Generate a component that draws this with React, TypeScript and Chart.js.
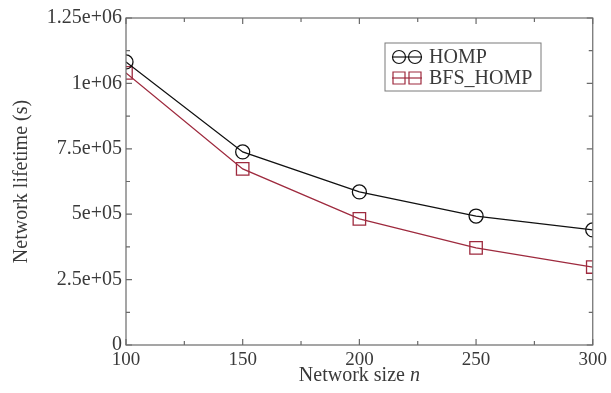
import React, { useEffect, useRef } from "react";
import { Chart, registerables } from "chart.js";

Chart.register(...registerables);

const networkSizes = [100, 150, 200, 250, 300];
const hompLifetime = [1082000, 738000, 585000, 493000, 440000];
const bfsHompLifetime = [1040000, 673000, 482000, 371000, 298000];
const yTicks = [0, 250000, 500000, 750000, 1000000, 1250000];
const xTicks = [100, 150, 200, 250, 300];
const seriesNames = ["HOMP", "BFS_HOMP"];

const BLACK = "#111111";
const RED = "#9e2a3e";
const AXIS = "#6a6a6a";
const TEXT = "#3a3a3a";
const SERIF = "'Liberation Serif', 'DejaVu Serif', serif";

function fmtExp(v: number): string {
  if (v === 0) return "0";
  const s = v.toExponential();
  const [m, e] = s.split("e");
  const sign = e[0] === "-" ? "-" : "+";
  const digits = e.replace(/[+-]/, "").padStart(2, "0");
  return `${m}e${sign}${digits}`;
}

const framePlugin = {
  id: "frame",
  afterDraw(chart: any) {
    const { ctx, chartArea: a, scales } = chart;
    const xs = scales.x;
    const ys = scales.y;
    ctx.save();
    ctx.strokeStyle = AXIS;
    ctx.lineWidth = 1.2;
    ctx.strokeRect(a.left, a.top, a.right - a.left, a.bottom - a.top);
    for (let v = 100; v <= 300; v += 25) {
      const px = xs.getPixelForValue(v);
      const len = v % 50 === 0 ? 6 : 4;
      ctx.beginPath();
      ctx.moveTo(px, a.bottom);
      ctx.lineTo(px, a.bottom - len);
      ctx.moveTo(px, a.top);
      ctx.lineTo(px, a.top + len);
      ctx.stroke();
    }
    for (let v = 0; v <= 1250000; v += 125000) {
      const py = ys.getPixelForValue(v);
      const len = v % 250000 === 0 ? 6 : 4;
      ctx.beginPath();
      ctx.moveTo(a.left, py);
      ctx.lineTo(a.left + len, py);
      ctx.moveTo(a.right, py);
      ctx.lineTo(a.right - len, py);
      ctx.stroke();
    }
    ctx.fillStyle = TEXT;
    ctx.textBaseline = "middle";
    const cx = (a.left + a.right) / 2;
    const t1 = "Network size ";
    ctx.font = `20px ${SERIF}`;
    const w1 = ctx.measureText(t1).width;
    ctx.font = `italic 20px ${SERIF}`;
    const w2 = ctx.measureText("n").width;
    const startX = cx - (w1 + w2) / 2;
    ctx.textAlign = "left";
    ctx.font = `20px ${SERIF}`;
    ctx.fillText(t1, startX, 376);
    ctx.font = `italic 20px ${SERIF}`;
    ctx.fillText("n", startX + w1, 376);

    ctx.save();
    ctx.translate(22, (a.top + a.bottom) / 2);
    ctx.rotate(-Math.PI / 2);
    ctx.textAlign = "center";
    ctx.font = `20px ${SERIF}`;
    ctx.fillText("Network lifetime (s)", 0, 0);
    ctx.restore();

    const bx = 385, by = 43, bw = 156, bh = 48;
    ctx.fillStyle = "#ffffff";
    ctx.fillRect(bx, by, bw, bh);
    ctx.strokeStyle = "#7a7a7a";
    ctx.lineWidth = 1;
    ctx.strokeRect(bx, by, bw, bh);
    const rows = [
      { name: seriesNames[0], color: BLACK, shape: "circle", y: 57 },
      { name: seriesNames[1], color: RED, shape: "rect", y: 78 },
    ];
    for (const r of rows) {
      ctx.strokeStyle = r.color;
      ctx.lineWidth = 1.2;
      ctx.beginPath();
      ctx.moveTo(392, r.y);
      ctx.lineTo(422, r.y);
      ctx.stroke();
      for (const mx of [399, 415]) {
        ctx.beginPath();
        if (r.shape === "circle") ctx.arc(mx, r.y, 6.5, 0, Math.PI * 2);
        else ctx.rect(mx - 6, r.y - 6, 12, 12);
        ctx.stroke();
      }
      ctx.fillStyle = TEXT;
      ctx.textAlign = "left";
      ctx.font = `20px ${SERIF}`;
      ctx.fillText(r.name, 429, r.y + 1);
    }
    ctx.restore();
  },
};

export default function App() {
  const ref = useRef<HTMLCanvasElement | null>(null);
  useEffect(() => {
    if (!ref.current) return;
    const chart = new Chart(ref.current, {
      type: "line",
      data: {
        datasets: [
          {
            label: seriesNames[0],
            data: networkSizes.map((x, i) => ({ x, y: hompLifetime[i] })),
            borderColor: BLACK,
            backgroundColor: "rgba(0,0,0,0)",
            borderWidth: 1.3,
            pointStyle: "circle",
            pointRadius: 7,
            pointBorderWidth: 1.3,
            pointBorderColor: BLACK,
            pointBackgroundColor: "rgba(0,0,0,0)",
          },
          {
            label: seriesNames[1],
            data: networkSizes.map((x, i) => ({ x, y: bfsHompLifetime[i] })),
            borderColor: RED,
            backgroundColor: "rgba(0,0,0,0)",
            borderWidth: 1.3,
            pointStyle: "rect",
            pointRadius: 8.8,
            pointBorderWidth: 1.3,
            pointBorderColor: RED,
            pointBackgroundColor: "rgba(0,0,0,0)",
          },
        ],
      },
      options: {
        animation: false,
        responsive: false,
        layout: { padding: { top: 18, right: 17, left: 0, bottom: 0 } },
        plugins: { legend: { display: false }, tooltip: { enabled: false } },
        scales: {
          x: {
            type: "linear",
            min: 100,
            max: 300,
            afterBuildTicks: (s: any) => {
              s.ticks = xTicks.map((v) => ({ value: v }));
            },
            afterFit: (s: any) => {
              s.height = 48;
            },
            grid: { display: false, drawTicks: false },
            border: { display: false },
            ticks: {
              color: TEXT,
              font: { family: SERIF, size: 19 },
              padding: 4,
              maxRotation: 0,
              callback: (v: any) => String(v),
            },
          },
          y: {
            type: "linear",
            min: 0,
            max: 1250000,
            afterBuildTicks: (s: any) => {
              s.ticks = yTicks.map((v) => ({ value: v }));
            },
            afterFit: (s: any) => {
              s.width = 126;
            },
            grid: { display: false, drawTicks: false },
            border: { display: false },
            ticks: {
              color: TEXT,
              font: { family: SERIF, size: 20 },
              padding: 4,
              callback: (v: any) => fmtExp(Number(v)),
            },
          },
        },
      },
      plugins: [framePlugin],
    } as any);
    return () => chart.destroy();
  }, []);
  return (
    <div style={{ position: "absolute", left: 0, top: 0, width: 611, height: 393, background: "#fff" }}>
      <canvas ref={ref} width={611} height={393} style={{ width: 611, height: 393 }} />
    </div>
  );
}
